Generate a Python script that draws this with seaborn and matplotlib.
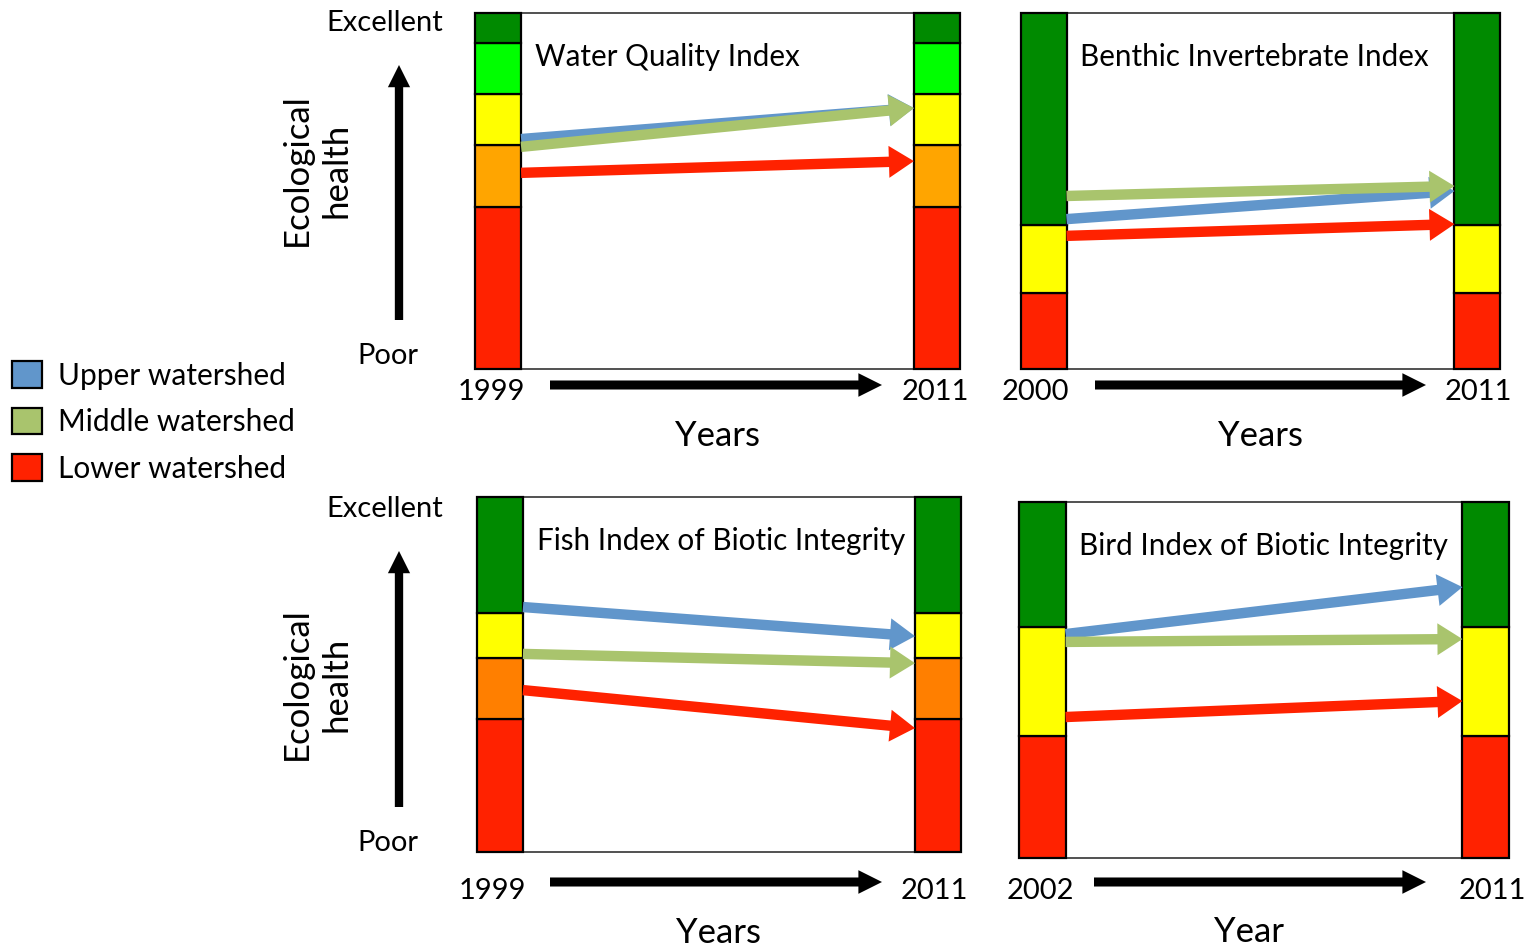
import numpy as np
import seaborn as sns
import matplotlib.pyplot as plt
from matplotlib.patches import Patch
from matplotlib.transforms import ScaledTranslation

W, H = 1528, 951

# panels
titles = ["Water Quality Index", "Benthic Invertebrate Index",
          "Fish Index of Biotic Integrity", "Bird Index of Biotic Integrity"]
start_years = [1999, 2000, 1999, 2002]
end_years = [2011, 2011, 2011, 2011]
xlabels = ["Years", "Years", "Years", "Year"]

# health class boundaries on a 0 (poor) - 100 (excellent) scale, bottom to top
wqi_bands = [45.5, 62.9, 77.2, 91.6, 100]
benthic_bands = [21.3, 40.4, 100]
fish_bands = [37.5, 54.6, 67.3, 100]
bird_bands = [34.2, 65.0, 100]

wqi_colors = ["#FF2200", "#FFA500", "#FFFF00", "#00FF00", "#008A00"]
benthic_colors = ["#FF2200", "#FFFF00", "#008A00"]
fish_colors = ["#FF2200", "#FF7F00", "#FFFF00", "#008A00"]
bird_colors = ["#FF2200", "#FFFF00", "#008A00"]

# watershed scores (same scale): first year and 2011
upper_start = [64.6, 42.1, 69.0, 62.9]
upper_end = [73.3, 50.0, 60.8, 76.1]
middle_start = [62.4, 48.6, 55.8, 60.7]
middle_end = [73.3, 51.4, 53.2, 61.5]
lower_start = [55.1, 37.4, 45.6, 39.6]
lower_end = [58.4, 40.7, 34.9, 44.1]

watersheds = ["Upper watershed", "Middle watershed", "Lower watershed"]
ws_colors = ["#6196CB", "#A9C46D", "#FF2200"]

bands = [wqi_bands, benthic_bands, fish_bands, bird_bands]
band_colors = [wqi_colors, benthic_colors, fish_colors, bird_colors]
starts = [upper_start, middle_start, lower_start]
ends = [upper_end, middle_end, lower_end]

sns.set_theme(style="white", rc={"text.color": "black", "xtick.color": "black",
                                 "axes.labelcolor": "black"})
plt.rcParams["font.family"] = ["Lato", "DejaVu Sans"]

fig = plt.figure(figsize=(W / 100, H / 100), dpi=100)

# overlay in image pixels for the decorations
deco = fig.add_axes([0, 0, 1, 1], zorder=0)
deco.set_xlim(0, W)
deco.set_ylim(H, 0)
deco.axis("off")

# panel boxes (left, top, right, bottom) in pixels
boxes = [(475, 13, 960, 369), (1021, 13, 1500, 369),
         (477, 497, 961, 852), (1019, 502, 1509, 858)]
tick_pad = [7, 7, 18.5, 14.5]
tick_shift = [(-7, -2), (-8, 1.5), (-8, -4), (-2, 6.5)]  # px nudges of year labels
label_pos = [(0.5, -0.188), (0.5, -0.188), (0.5, -0.228), (0.469, -0.208)]
bar_w = 0.105

for i in range(4):
    l, t, r, b = boxes[i]
    ax = fig.add_axes([l / W, 1 - b / H, (r - l) / W, (b - t) / H], zorder=2)
    ax.set_facecolor("none")
    ax.set_xlim(-bar_w / 2, 1 + bar_w / 2)
    ax.set_ylim(0, 100)

    tops = np.array(bands[i])
    bottoms = np.concatenate([[0], tops[:-1]])
    for x in [0, 1]:
        ax.bar([x] * len(tops), tops - bottoms, bottom=bottoms, width=bar_w,
               color=band_colors[i], edgecolor="black", linewidth=1.6,
               clip_on=False, zorder=3)

    for k in range(3):
        ax.annotate("", xy=(1 - bar_w / 2, ends[k][i]), xytext=(bar_w / 2, starts[k][i]),
                    arrowprops=dict(arrowstyle="simple,head_length=18,head_width=23,tail_width=7.5",
                                    mutation_scale=1, color=ws_colors[k], lw=0,
                                    shrinkA=0, shrinkB=0),
                    zorder=4)

    ax.text(0.123, 0.876, titles[i], transform=ax.transAxes, fontsize=21.3,
            ha="left", va="center")

    for side in ["left", "right"]:
        ax.spines[side].set_visible(False)
    for side in ["top", "bottom"]:
        ax.spines[side].set_color("#333333")
        ax.spines[side].set_linewidth(1.2)
    ax.set_yticks([])
    ax.set_xticks([0, 1])
    ax.set_xticklabels([start_years[i], end_years[i]])
    ax.tick_params(axis="x", length=0, pad=tick_pad[i], labelsize=21)
    for lbl, dx in zip(ax.get_xticklabels(), tick_shift[i]):
        lbl.set_transform(lbl.get_transform() + ScaledTranslation(dx / 100, 0, fig.dpi_scale_trans))
    ax.set_xlabel(xlabels[i], fontsize=25, va="center")
    ax.xaxis.set_label_coords(*label_pos[i])

# year arrows under the panels
arrow_props = dict(arrowstyle="simple,head_length=17,head_width=17,tail_width=6.5",
                   mutation_scale=1, color="black", lw=0, shrinkA=0, shrinkB=0)
for x0, x1, y in [(550, 882, 385), (1095, 1426, 385), (550, 882, 882), (1094, 1426, 882)]:
    deco.annotate("", xy=(x1, y), xytext=(x0, y), arrowprops=arrow_props)

# ecological health axis on the left
health_props = dict(arrowstyle="simple,head_length=16,head_width=16,tail_width=6",
                    mutation_scale=1, color="black", lw=0, shrinkA=0, shrinkB=0)
for y_lo, y_hi, y_ex, y_po, y_lab in [(320, 65, 23, 355, 170), (807, 551, 509, 842, 684)]:
    deco.annotate("", xy=(399, y_hi), xytext=(399, y_lo), arrowprops=health_props)
    deco.text(385, y_ex, "Excellent", fontsize=21, ha="center", va="center")
    deco.text(388, y_po + 1, "Poor", fontsize=21, ha="center", va="center")
    deco.text(317, y_lab, "Ecological\nhealth", fontsize=25, rotation=90,
              ha="center", va="center", linespacing=1.3)

handles = [Patch(facecolor=c, edgecolor="black", linewidth=1.6) for c in ws_colors]
fig.legend(handles, watersheds, loc="upper left", bbox_to_anchor=(12 / W, 1 - 361 / H),
           frameon=False, fontsize=21.5, handlelength=1.0, handleheight=1.0,
           handletextpad=0.55, labelspacing=0.6, borderpad=0, borderaxespad=0)

fig.savefig("out.png", dpi=100)
